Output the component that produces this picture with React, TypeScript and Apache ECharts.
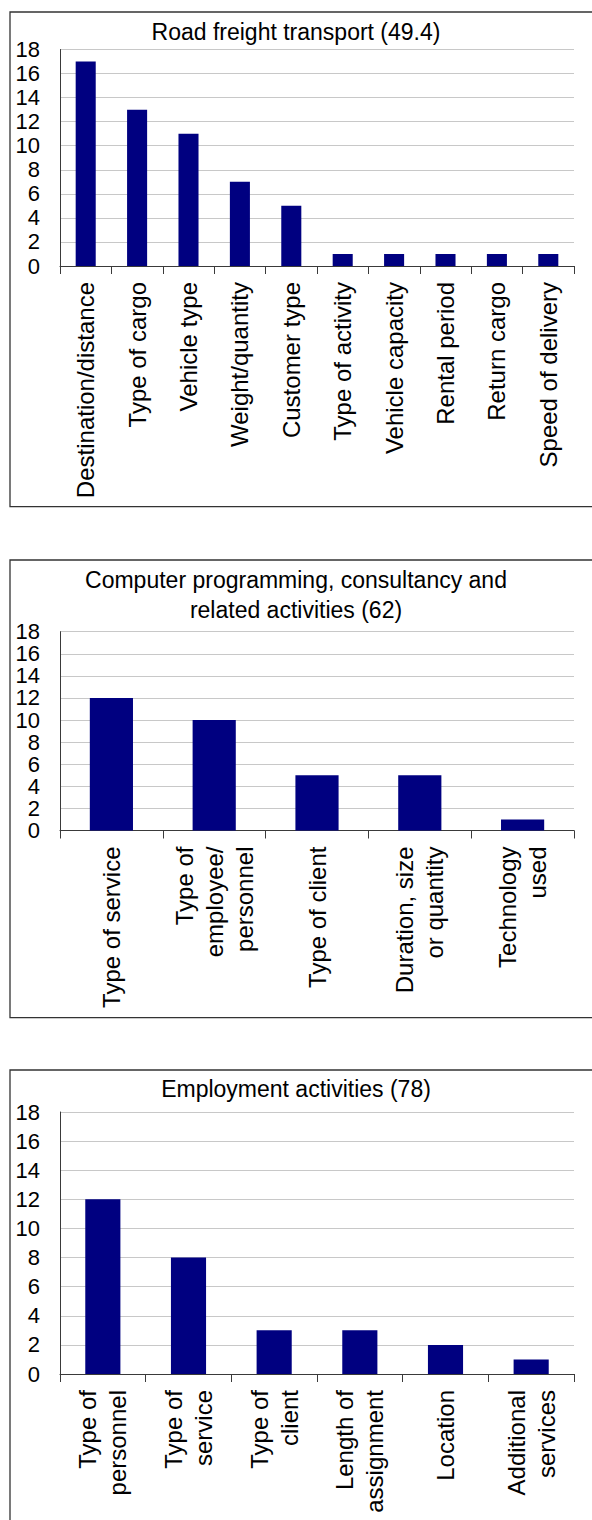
import React, { useEffect, useRef } from "react";
import * as echarts from "echarts";

const FONT = '"Liberation Sans", Arial, Helvetica, sans-serif';

// Panel 1
const roadTitle = "Road freight transport (49.4)";
const roadCategories = [
  "Destination/distance",
  "Type of cargo",
  "Vehicle type",
  "Weight/quantity",
  "Customer type",
  "Type of activity",
  "Vehicle capacity",
  "Rental period",
  "Return cargo",
  "Speed of delivery",
];
const roadValues = [17, 13, 11, 7, 5, 1, 1, 1, 1, 1];

// Panel 2
const computerTitle = "Computer programming, consultancy and\nrelated activities (62)";
const computerCategories = [
  "Type of service",
  "Type of\nemployee/\npersonnel",
  "Type of client",
  "Duration, size\nor quantity",
  "Technology\nused",
];
const computerValues = [12, 10, 5, 5, 1];

// Panel 3
const employmentTitle = "Employment activities (78)";
const employmentCategories = [
  "Type of\npersonnel",
  "Type of\nservice",
  "Type of\nclient",
  "Length of\nassignment",
  "Location",
  "Additional\nservices",
];
const employmentValues = [12, 8, 3, 3, 2, 1];

// shared value axis
const yMin = 0;
const yMax = 18;
const yStep = 2;

const BAR = "#000080";
const AXIS = "#3a3a3a";
const GRIDLINE = "#c8c8c8";

function xAxis(gridIndex: number, data: string[]) {
  return {
    type: "category",
    gridIndex,
    data,
    boundaryGap: true,
    axisLine: { show: true, lineStyle: { color: AXIS, width: 1 } },
    axisTick: { show: true, length: 8, lineStyle: { color: AXIS } },
    axisLabel: {
      rotate: 90,
      interval: 0,
      fontSize: 24,
      lineHeight: 30,
      color: "#000",
      fontFamily: FONT,
      margin: 16,
    },
    splitLine: { show: false },
  };
}

function yAxis(gridIndex: number) {
  return {
    type: "value",
    gridIndex,
    min: yMin,
    max: yMax,
    interval: yStep,
    axisLine: { show: true, lineStyle: { color: AXIS, width: 1 } },
    axisTick: { show: false },
    axisLabel: { fontSize: 22, color: "#000", fontFamily: FONT, margin: 20 },
    splitLine: { show: true, lineStyle: { color: GRIDLINE, width: 1 } },
  };
}

function titleItem(text: string, top: number) {
  return {
    text,
    left: "center",
    top,
    padding: 0,
    textStyle: {
      fontSize: 23,
      fontWeight: "normal",
      fontFamily: FONT,
      color: "#000",
      lineHeight: 30,
      align: "center",
    },
  };
}

function frame(y: number, h: number) {
  return {
    type: "rect",
    shape: { x: 10, y, width: 620, height: h },
    style: { fill: "none", stroke: "#333", lineWidth: 1.3 },
    z: 1,
  };
}

export default function App() {
  const ref = useRef<HTMLDivElement>(null);
  useEffect(() => {
    if (!ref.current) return;
    const chart = echarts.init(ref.current, undefined, { renderer: "svg" });
    chart.setOption({
      animation: false,
      backgroundColor: "#fff",
      title: [
        titleItem(roadTitle, 17),
        titleItem(computerTitle, 565),
        titleItem(employmentTitle, 1074),
      ],
      graphic: [frame(12, 494.7), frame(560, 457.7), frame(1070, 500)],
      grid: [
        { left: 60, right: 18, top: 49.5, height: 216.5 },
        { left: 60, right: 18, top: 631.7, height: 198.8 },
        { left: 60, right: 18, top: 1112, height: 262 },
      ],
      xAxis: [
        xAxis(0, roadCategories),
        xAxis(1, computerCategories),
        xAxis(2, employmentCategories),
      ],
      yAxis: [yAxis(0), yAxis(1), yAxis(2)],
      series: [
        {
          type: "bar",
          xAxisIndex: 0,
          yAxisIndex: 0,
          data: roadValues,
          barWidth: "39%",
          itemStyle: { color: BAR },
        },
        {
          type: "bar",
          xAxisIndex: 1,
          yAxisIndex: 1,
          data: computerValues,
          barWidth: "42%",
          itemStyle: { color: BAR },
        },
        {
          type: "bar",
          xAxisIndex: 2,
          yAxisIndex: 2,
          data: employmentValues,
          barWidth: "41%",
          itemStyle: { color: BAR },
        },
      ],
    });
    return () => chart.dispose();
  }, []);
  return (
    <div
      ref={ref}
      style={{ position: "absolute", left: 0, top: 0, width: 592, height: 1520, background: "#fff" }}
    />
  );
}
